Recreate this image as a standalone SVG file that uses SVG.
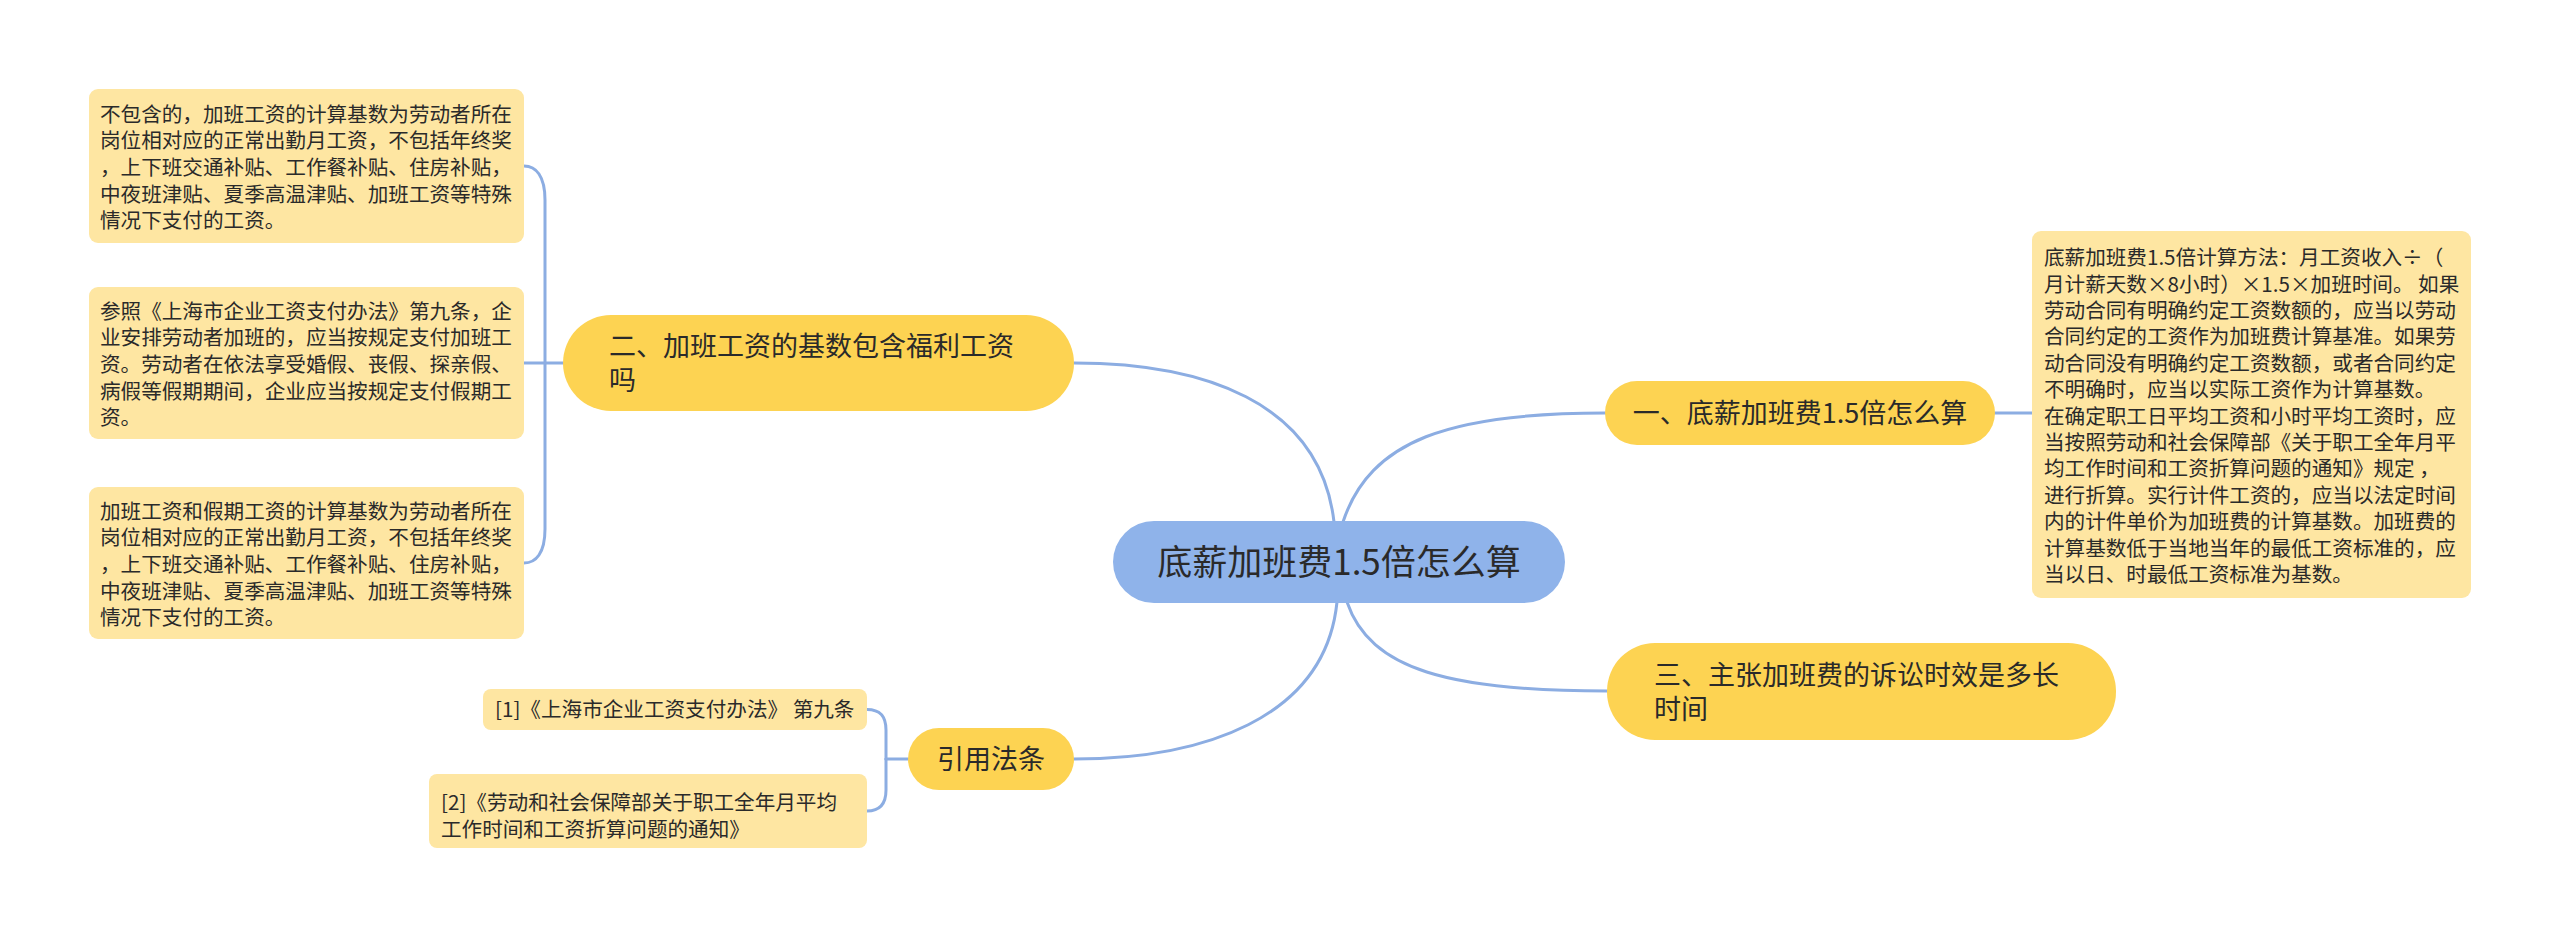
<svg xmlns="http://www.w3.org/2000/svg" width="2560" height="939" viewBox="0 0 2560 939">
<style>
.bg{fill:#ffffff}
.conn{fill:none;stroke:#8cade2;stroke-width:3;stroke-linecap:round}
.root{fill:#8fb3ea}
.l1{fill:#fdd352}
.leaf{fill:#fee6a2}
text{font-family:"Noto Sans CJK SC","Noto Sans",sans-serif;fill:#2a2a2a}
.t-root{font-size:35px;text-anchor:middle}
.t-l1{font-size:27px}
.t-leaf{font-size:20.6px}
</style>
<rect class="bg" x="0" y="0" width="2560" height="939"/>
<g id="connectors">
<path class="conn" d="M1334,522 C1320,400 1200,363 1074,363"/>
<path class="conn" d="M1343,522 C1370,440 1450,413 1605,413"/>
<path class="conn" d="M1337,602 C1325,720 1200,759 1074,759"/>
<path class="conn" d="M1347,602 C1370,670 1450,691 1607,691"/>
<path class="conn" d="M563,363 H524"/>
<path class="conn" d="M545,363 V200 C545,176 536,166 524,166"/>
<path class="conn" d="M545,363 V529 C545,553 536,563 524,563"/>
<path class="conn" d="M1995,413 H2032"/>
<path class="conn" d="M908,759 H886"/>
<path class="conn" d="M886,759 V730 C886,716 880,709.5 867,709.5"/>
<path class="conn" d="M886,759 V790 C886,804 880,811 867,811"/>
</g>
<g id="root">
<rect class="root" x="1113" y="521" width="452" height="82" rx="41"/>
<text class="t-root" x="1339" y="575">底薪加班费1.5倍怎么算</text>
</g>
<g id="n1">
<rect class="l1" x="1605" y="381" width="390" height="64" rx="32"/>
<text class="t-l1" x="1800" y="423" text-anchor="middle">一、底薪加班费1.5倍怎么算</text>
</g>
<g id="n2">
<rect class="l1" x="563" y="315" width="511" height="96" rx="48"/>
<text class="t-l1" x="609" y="356">二、加班工资的基数包含福利工资</text>
<text class="t-l1" x="609" y="390">吗</text>
</g>
<g id="n3">
<rect class="l1" x="1607" y="643" width="509" height="97" rx="48"/>
<text class="t-l1" x="1654" y="684.5">三、主张加班费的诉讼时效是多长</text>
<text class="t-l1" x="1654" y="718.5">时间</text>
</g>
<g id="n4">
<rect class="l1" x="908" y="728" width="166" height="62" rx="31"/>
<text class="t-l1" x="991" y="769" text-anchor="middle">引用法条</text>
</g>
<g id="leaf1">
<rect class="leaf" x="2032" y="231" width="439" height="367" rx="9"/>
<text class="t-leaf" x="2044" y="265.1">底薪加班费1.5倍计算方法：月工资收入÷（</text>
<text class="t-leaf" x="2044" y="291.5">月计薪天数×8小时）×1.5×加班时间。 如果</text>
<text class="t-leaf" x="2044" y="317.9">劳动合同有明确约定工资数额的，应当以劳动</text>
<text class="t-leaf" x="2044" y="344.3">合同约定的工资作为加班费计算基准。如果劳</text>
<text class="t-leaf" x="2044" y="370.7">动合同没有明确约定工资数额，或者合同约定</text>
<text class="t-leaf" x="2044" y="397.1">不明确时，应当以实际工资作为计算基数。</text>
<text class="t-leaf" x="2044" y="423.5">在确定职工日平均工资和小时平均工资时，应</text>
<text class="t-leaf" x="2044" y="449.9">当按照劳动和社会保障部《关于职工全年月平</text>
<text class="t-leaf" x="2044" y="476.3">均工作时间和工资折算问题的通知》规定 ，</text>
<text class="t-leaf" x="2044" y="502.7">进行折算。实行计件工资的，应当以法定时间</text>
<text class="t-leaf" x="2044" y="529.1">内的计件单价为加班费的计算基数。加班费的</text>
<text class="t-leaf" x="2044" y="555.5">计算基数低于当地当年的最低工资标准的，应</text>
<text class="t-leaf" x="2044" y="581.9">当以日、时最低工资标准为基数。</text>
</g>
<g id="leaf2">
<rect class="leaf" x="89" y="89" width="435" height="154" rx="9"/>
<text class="t-leaf" x="100" y="121.8">不包含的，加班工资的计算基数为劳动者所在</text>
<text class="t-leaf" x="100" y="148.4">岗位相对应的正常出勤月工资，不包括年终奖</text>
<text class="t-leaf" x="100" y="175">，上下班交通补贴、工作餐补贴、住房补贴，</text>
<text class="t-leaf" x="100" y="201.6">中夜班津贴、夏季高温津贴、加班工资等特殊</text>
<text class="t-leaf" x="100" y="228.2">情况下支付的工资。</text>
</g>
<g id="leaf3">
<rect class="leaf" x="89" y="287" width="435" height="152" rx="9"/>
<text class="t-leaf" x="100" y="318.8">参照《上海市企业工资支付办法》第九条，企</text>
<text class="t-leaf" x="100" y="345.4">业安排劳动者加班的，应当按规定支付加班工</text>
<text class="t-leaf" x="100" y="372">资。劳动者在依法享受婚假、丧假、探亲假、</text>
<text class="t-leaf" x="100" y="398.6">病假等假期期间，企业应当按规定支付假期工</text>
<text class="t-leaf" x="100" y="425.2">资。</text>
</g>
<g id="leaf4">
<rect class="leaf" x="89" y="487" width="435" height="152" rx="9"/>
<text class="t-leaf" x="100" y="518.8">加班工资和假期工资的计算基数为劳动者所在</text>
<text class="t-leaf" x="100" y="545.4">岗位相对应的正常出勤月工资，不包括年终奖</text>
<text class="t-leaf" x="100" y="572">，上下班交通补贴、工作餐补贴、住房补贴，</text>
<text class="t-leaf" x="100" y="598.6">中夜班津贴、夏季高温津贴、加班工资等特殊</text>
<text class="t-leaf" x="100" y="625.2">情况下支付的工资。</text>
</g>
<g id="ref1">
<rect class="leaf" x="483" y="689" width="384" height="41" rx="8"/>
<text class="t-leaf" x="495" y="717">[1]《上海市企业工资支付办法》 第九条</text>
</g>
<g id="ref2">
<rect class="leaf" x="429" y="774" width="438" height="74" rx="8"/>
<text class="t-leaf" x="441" y="810">[2]《劳动和社会保障部关于职工全年月平均</text>
<text class="t-leaf" x="441" y="837">工作时间和工资折算问题的通知》</text>
</g>
</svg>
